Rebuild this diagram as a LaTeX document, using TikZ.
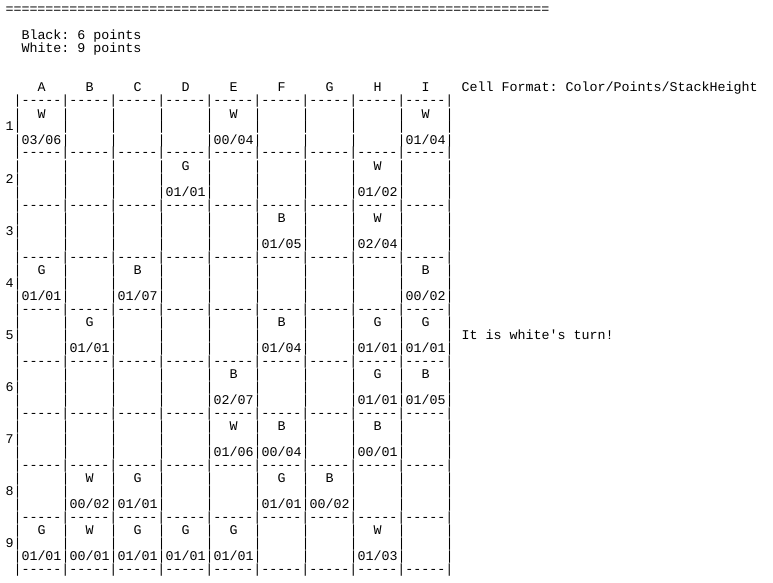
\documentclass[tikz,border=0pt]{standalone}
\usepackage{fontspec}
\setmonofont{Liberation Mono}
\newcommand\putline[4]{\node[mono] (#3) at ({5.5+8*(#1)},{14+13*(#2)}) {#4};}
\begin{document}
\begin{tikzpicture}[x=1pt,y=-1pt,
  mono/.style={anchor=base west,inner sep=0pt,outer sep=0pt,text=black,
    font=\ttfamily\fontsize{13.333}{13}\selectfont\frenchspacing}]
\useasboundingbox[fill=white] (0,0) rectangle (773,583);
% header texts
\putline{0}{0}{eq}{====================================================================}
\putline{2}{2}{black}{Black:~6~points}
\putline{2}{3}{white}{White:~9~points}
\foreach \L [count=\k from 0] in {A,B,C,D,E,F,G,H,I}
  {\putline{4+6*\k}{6}{col\L}{\L}}
\putline{57}{6}{fmt}{Cell~Format:~Color/Points/StackHeight}
\putline{57}{25}{turn}{It~is~white's~turn!}
% separator lines
\foreach \r in {0,...,9}
  {\putline{1}{7+4*\r}{sep\r}{|-----|-----|-----|-----|-----|-----|-----|-----|-----|}}
% vertical bars and row numbers
\foreach \r in {1,...,9}{
  \putline{0}{4*\r+5}{row\r}{\r}
  \foreach \j in {0,1,2}{
    \foreach \k in {0,...,9}{
      \putline{1+6*\k}{4*\r+4+\j}{bar\r-\j-\k}{|}
    }
  }
}
% cell contents: row/column/colour/points/stack
\foreach \r/\k/\c/\p/\s in {
  1/0/W/03/06, 1/4/W/00/04, 1/8/W/01/04,
  2/3/G/01/01, 2/7/W/01/02,
  3/5/B/01/05, 3/7/W/02/04,
  4/0/G/01/01, 4/2/B/01/07, 4/8/B/00/02,
  5/1/G/01/01, 5/5/B/01/04, 5/7/G/01/01, 5/8/G/01/01,
  6/4/B/02/07, 6/7/G/01/01, 6/8/B/01/05,
  7/4/W/01/06, 7/5/B/00/04, 7/7/B/00/01,
  8/1/W/00/02, 8/2/G/01/01, 8/5/G/01/01, 8/6/B/00/02,
  9/0/G/01/01, 9/1/W/00/01, 9/2/G/01/01, 9/3/G/01/01, 9/4/G/01/01, 9/7/W/01/03}{
  \putline{4+6*\k}{4*\r+4}{clr\r-\k}{\c}
  \putline{2+6*\k}{4*\r+6}{num\r-\k}{\p/\s}
}
\end{tikzpicture}
\end{document}
